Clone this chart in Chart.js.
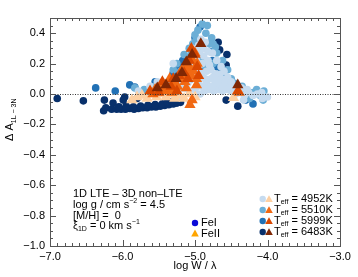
<!DOCTYPE html>
<html><head><meta charset="utf-8">
<script src="https://cdn.jsdelivr.net/npm/chart.js@4"></script>
<style>html,body{margin:0;padding:0;background:#fff}</style>
</head><body>
<canvas id="c" width="358" height="277"></canvas>
<script>
// ---- data (log W/lambda, Delta A) ----
const xTicks = [-7, -6, -5, -4, -3];
const yTicks = [-1.0, -0.8, -0.6, -0.4, -0.2, 0.0, 0.2, 0.4];
const teffLabels = ['4952K', '5510K', '5999K', '6483K'];

const fe1_4952 = [[-5.3,0.02],[-5.22,0.03],[-5.15,0.04],[-5.08,0.02],[-5.0,0.03],[-4.93,0.0],[-4.87,0.02],[-4.8,0.03],[-4.74,0.02],[-4.68,0.03],[-4.62,0.02],[-4.56,0.03],[-4.5,0.02],[-4.44,0.0],[-4.38,0.01],[-4.32,-0.01],[-4.26,0.01],[-4.2,-0.01],[-4.14,0.0],[-4.08,0.01],[-4.07,-0.03],[-4.33,-0.04],[-4.0,-0.02],
[-5.25,0.07],[-5.18,0.09],[-5.12,0.11],[-5.06,0.13],[-5.0,0.1],[-4.95,0.08],[-4.9,0.11],[-4.84,0.08],[-4.78,0.1],[-4.72,0.07],[-4.66,0.08],[-4.6,0.05],[-4.54,0.06],[-4.48,0.04],
[-5.08,0.18],[-5.02,0.2],[-4.96,0.17],[-4.9,0.2],[-4.84,0.15],[-4.78,0.16],[-4.72,0.13],[-4.66,0.13],
[-5.0,0.25],[-4.94,0.27],[-4.88,0.25],[-4.82,0.22],[-5.04,0.3],[-4.95,0.32],
[-5.45,0.01],[-5.55,0.0],[-5.62,0.05],[-5.78,0.02],[-5.36,0.04],[-5.2,-0.02],[-5.52,0.08],[-5.3,0.2],
[-5.15,0.15],[-5.1,0.16],[-5.05,0.24],[-4.98,0.22],[-4.92,0.14],[-4.86,0.1],[-4.8,0.19],[-4.75,0.11],[-4.7,0.1],[-4.64,0.1],[-4.58,0.08],[-4.52,0.04],[-4.46,0.02],[-4.9,0.05],[-4.84,0.04],[-4.97,0.05],[-5.1,0.07],[-5.17,0.06],[-4.7,0.05],[-4.76,0.05],[-4.62,0.04],[-4.98,0.29],[-4.88,0.3],[-4.92,0.36],[-4.86,0.34],[-4.82,0.28],[-4.76,0.27],[-4.7,0.22],[-4.64,0.18],[-4.6,0.15],[-4.55,0.11],[-4.5,0.08],[-4.42,0.05],[-4.36,0.04],[-4.28,0.03]];
const fe1_5510 = [[-4.90,0.46],[-4.83,0.45],[-4.96,0.42],[-5.0,0.39],[-4.99,0.35],[-4.77,0.37],[-4.8,0.33],[-4.72,0.31],[-4.85,0.4],
[-5.05,0.28],[-5.1,0.2],[-5.2,0.15],[-5.25,0.1],[-5.35,0.08],[-5.45,0.06],[-5.55,0.05],[-5.7,0.03],[-5.83,0.04],[-4.92,0.22],[-4.85,0.18],[-4.75,0.2],[-4.65,0.12],[-4.6,0.08],[-4.55,0.05],[-4.48,0.03],[-4.4,0.02],[-4.3,0.0],[-4.2,0.01],[-4.1,-0.01],[-4.06,-0.04],[-4.25,-0.03],[-4.98,0.16],
[-5.3,0.16],[-5.25,0.2],[-5.15,0.26],[-5.08,0.3],[-5.03,0.33],[-4.75,0.33],[-4.7,0.27],[-4.62,0.22],[-4.55,0.16],[-4.5,0.1],[-4.45,0.07],[-4.35,0.05],[-4.15,0.03],[-4.05,0.02]];
const fe1_5999 = [[-6.37,0.04],[-6.1,0.02],[-5.9,0.06],[-5.83,0.045],[-5.66,0.015],[-5.55,0.08],[-5.46,0.07],[-5.3,0.14],[-5.23,0.18],[-5.17,0.22],[-5.11,0.24],[-5.14,0.2],[-5.29,0.12],[-4.93,0.44],[-5.0,0.37],[-4.95,0.3],[-4.87,0.33],[-4.8,0.28],[-4.76,0.22],[-4.7,0.18],[-4.64,0.14],[-4.58,0.1],[-4.52,0.07],[-4.47,0.04],[-4.2,-0.065],[-4.3,-0.04],[-5.6,0.03],[-5.75,0.0],[-5.4,0.04],[-5.05,0.1],[-4.9,0.15]];
const fe1_6483 = [[-6.90,-0.03],[-6.54,-0.045],[-6.26,-0.11],[-6.23,-0.09],[-6.25,-0.04],[-5.97,-0.02],[-6.13,-0.06],
[-6.15,-0.1],[-6.08,-0.1],[-6.02,-0.1],[-5.96,-0.1],[-5.9,-0.095],[-5.84,-0.1],[-5.78,-0.095],[-5.72,-0.09],[-5.66,-0.09],[-5.6,-0.085],[-5.54,-0.085],[-5.48,-0.08],[-5.42,-0.075],[-5.36,-0.07],[-5.3,-0.065],[-5.25,-0.06],[-5.2,-0.055],
[-6.05,-0.085],[-5.95,-0.08],[-5.85,-0.085],[-5.75,-0.08],[-5.65,-0.075],[-5.55,-0.07],[-5.45,-0.065],[-5.38,-0.055],[-5.32,-0.05],
[-5.73,0.015],[-5.99,-0.04],[-5.8,-0.03],
[-4.68,0.34],[-4.56,0.26],[-4.66,0.29],[-4.57,0.19],[-4.57,-0.04],[-4.41,-0.08]];

const fe2_4952 = [[-5.87,-0.04],[-5.8,-0.02],[-5.73,-0.01],[-5.66,-0.03],[-5.6,0.0],[-5.53,-0.02],[-5.47,0.0],[-5.4,-0.02],[-5.34,0.0],[-5.28,-0.03],[-5.22,-0.01],[-5.15,-0.03],[-5.08,0.0],[-5.0,-0.02],[-4.47,-0.025],[-5.5,0.02],[-5.25,0.02]];
const fe2_5510 = [[-5.58,0.0],[-5.48,0.05],[-5.39,0.03],[-5.3,0.07],[-5.28,0.06],[-5.2,0.1],[-5.14,0.08],[-5.1,0.13],[-5.07,0.17],[-5.03,0.22],[-5.0,0.27],[-5.12,0.04],[-5.04,-0.04],[-5.07,-0.07],[-4.98,0.06],[-4.39,0.01],[-5.35,0.1],[-5.18,0.16],
[-5.42,0.02],[-5.36,0.04],[-5.32,0.01],[-5.24,0.05],[-5.16,0.11],[-5.12,0.18],[-5.05,0.12],[-5.02,0.15],[-4.97,0.2],[-4.98,0.1],[-5.44,0.06],[-5.55,0.03]];
const fe2_5999 = [[-5.45,0.08],[-5.33,0.05],[-5.22,0.12],[-5.15,0.14],[-5.08,0.22],[-5.0,0.26],[-4.95,0.12],[-5.25,0.02],[-5.5,0.01],[-4.41,0.02],[-5.62,0.02],[-5.3,0.1],[-5.1,0.1],[-5.05,0.3],[-4.97,0.18]];
const fe2_6483 = [[-4.92,0.33],[-5.12,0.21],[-5.26,0.1],[-4.41,0.06],[-5.52,0.04],[-5.4,0.06],[-5.18,0.14],[-5.04,0.26]];

const blues = ['#c6dbef', '#6baed6', '#2171b5', '#08306b'];
const oranges = ['#fdd0a2', '#f16913', '#d94801', '#7f2704'];
const FONT = '"Liberation Sans", Arial, Helvetica, sans-serif';

const pts = a => a.map(p => ({x: p[0], y: p[1]}));
const layers = [
  [fe1_6483, blues[3], 'circle'], [fe1_5999, blues[2], 'circle'], [fe1_5510, blues[1], 'circle'], [fe1_4952, blues[0], 'circle'],
  [fe2_4952, oranges[0], 'triangle'], [fe2_5510, oranges[1], 'triangle'], [fe2_5999, oranges[2], 'triangle'], [fe2_6483, oranges[3], 'triangle']
];
const datasets = layers.map((l, i) => ({
  data: pts(l[0]), backgroundColor: l[1], borderWidth: 0, pointStyle: l[2],
  pointRadius: l[2] === 'circle' ? 3.8 : 6.5, pointHoverRadius: l[2] === 'circle' ? 3.8 : 6.5,
  order: layers.length - i
}));

function rich(ctx, x, y, parts, size) {
  let cx = x;
  for (const p of parts) {
    const sz = p.s ? Math.round(size * 0.64) : size;
    ctx.font = sz + 'px ' + FONT;
    const dy = p.s === 'sub' ? size * 0.3 : p.s === 'sup' ? -size * 0.38 : 0;
    ctx.fillText(p.t, cx, y + dy);
    cx += ctx.measureText(p.t).width;
  }
  return cx;
}

const deco = {
  id: 'deco',
  afterDatasetsDraw(chart) {
    const {ctx, chartArea: a, scales: {x, y}} = chart;
    ctx.save();
    // zero line
    ctx.strokeStyle = '#333'; ctx.lineWidth = 1; ctx.setLineDash([1, 1.5]);
    const y0 = Math.round(y.getPixelForValue(0)) + 0.5;
    ctx.beginPath(); ctx.moveTo(a.left, y0); ctx.lineTo(a.right, y0); ctx.stroke();
    ctx.setLineDash([]);
    // frame
    ctx.strokeStyle = '#555';
    ctx.strokeRect(Math.round(a.left) + 0.5, Math.round(a.top) + 0.5, Math.round(a.right - a.left), Math.round(a.bottom - a.top));
    // ticks
    ctx.beginPath();
    for (let i = -70; i <= -30; i++) {
      const v = i / 10, px = Math.round(x.getPixelForValue(v)) + 0.5;
      const L = (i % 10 === 0) ? 6 : 3;
      ctx.moveTo(px, a.bottom); ctx.lineTo(px, a.bottom - L);
      ctx.moveTo(px, a.top); ctx.lineTo(px, a.top + L);
    }
    for (let i = -20; i <= 10; i++) {
      const v = i / 20, py = Math.round(y.getPixelForValue(v)) + 0.5;
      const L = (i % 4 === 0) ? 6 : 3;
      ctx.moveTo(a.left, py); ctx.lineTo(a.left + L, py);
      ctx.moveTo(a.right, py); ctx.lineTo(a.right - L, py);
    }
    ctx.stroke();

    ctx.fillStyle = '#000'; ctx.textBaseline = 'middle'; ctx.textAlign = 'left';
    // annotation block
    const tx = 73, sz = 11;
    rich(ctx, tx, 194, [{t: '1D LTE \u2013 3D non\u2013LTE'}], sz);
    rich(ctx, tx, 205, [{t: 'log g / cm s'}, {t: '\u22122', s: 'sup'}, {t: ' = 4.5'}], sz);
    rich(ctx, tx, 216, [{t: '[M/H] =  0'}], sz);
    rich(ctx, tx, 226, [{t: '\u03BE'}, {t: '1D', s: 'sub'}, {t: ' = 0 km s'}, {t: '\u22121', s: 'sup'}], sz);

    // FeI / FeII legend
    ctx.fillStyle = '#0a0ad8';
    ctx.beginPath(); ctx.arc(195, 223, 3.2, 0, Math.PI * 2); ctx.fill();
    ctx.fillStyle = '#ffa500';
    ctx.beginPath(); ctx.moveTo(195, 229.5); ctx.lineTo(198.8, 236.5); ctx.lineTo(191.2, 236.5); ctx.closePath(); ctx.fill();
    ctx.fillStyle = '#000';
    rich(ctx, 201, 223, [{t: 'FeI'}], sz);
    rich(ctx, 201, 234, [{t: 'FeII'}], sz);

    // Teff legend
    const rows = [199, 210, 221, 232];
    rows.forEach((ry, i) => {
      ctx.fillStyle = blues[i];
      ctx.beginPath(); ctx.arc(262.7, ry, 3.2, 0, Math.PI * 2); ctx.fill();
      ctx.fillStyle = oranges[i];
      ctx.beginPath(); ctx.moveTo(269, ry - 3.8); ctx.lineTo(272.8, ry + 3); ctx.lineTo(265.2, ry + 3); ctx.closePath(); ctx.fill();
      ctx.fillStyle = '#000';
      rich(ctx, 274, ry, [{t: 'T'}, {t: 'eff', s: 'sub'}, {t: ' = ' + teffLabels[i]}], sz);
    });

    // y title
    ctx.save();
    ctx.translate(13, 141);
    ctx.rotate(-Math.PI / 2);
    ctx.textBaseline = 'alphabetic';
    rich(ctx, 0, 0, [{t: '\u0394 A'}, {t: '1L \u2212 3N', s: 'sub'}], 11);
    ctx.restore();
    ctx.restore();
  }
};

const fmt = v => (v < 0 ? '\u2212' : '') + Math.abs(v).toFixed(1);

new Chart(document.getElementById('c'), {
  type: 'scatter',
  data: {datasets},
  options: {
    responsive: false, animation: false, devicePixelRatio: 1,
    layout: {padding: {top: 18, right: 18, left: 0, bottom: 0}},
    plugins: {legend: {display: false}, tooltip: {enabled: false}},
    scales: {
      x: {
        type: 'linear', position: 'bottom', min: -7, max: -3,
        afterBuildTicks: s => { s.ticks = xTicks.map(v => ({value: v})); },
        afterFit: s => { s.height = 31; },
        grid: {display: false, drawTicks: false}, border: {display: false},
        ticks: {color: '#000', font: {family: FONT, size: 11}, padding: 4, maxRotation: 0, autoSkip: false, callback: v => fmt(v)},
        title: {display: true, text: 'log W / \u03BB', color: '#000', font: {family: FONT, size: 11}, padding: {top: 0, bottom: 4}}
      },
      y: {
        type: 'linear', position: 'left', min: -1, max: 0.5,
        afterBuildTicks: s => { s.ticks = yTicks.map(v => ({value: v})); },
        afterFit: s => { s.width = 50; },
        grid: {display: false, drawTicks: false}, border: {display: false},
        ticks: {color: '#000', font: {family: FONT, size: 11}, padding: 5, autoSkip: false, callback: v => fmt(v)}
      }
    }
  },
  plugins: [deco]
});
</script>
</body></html>
